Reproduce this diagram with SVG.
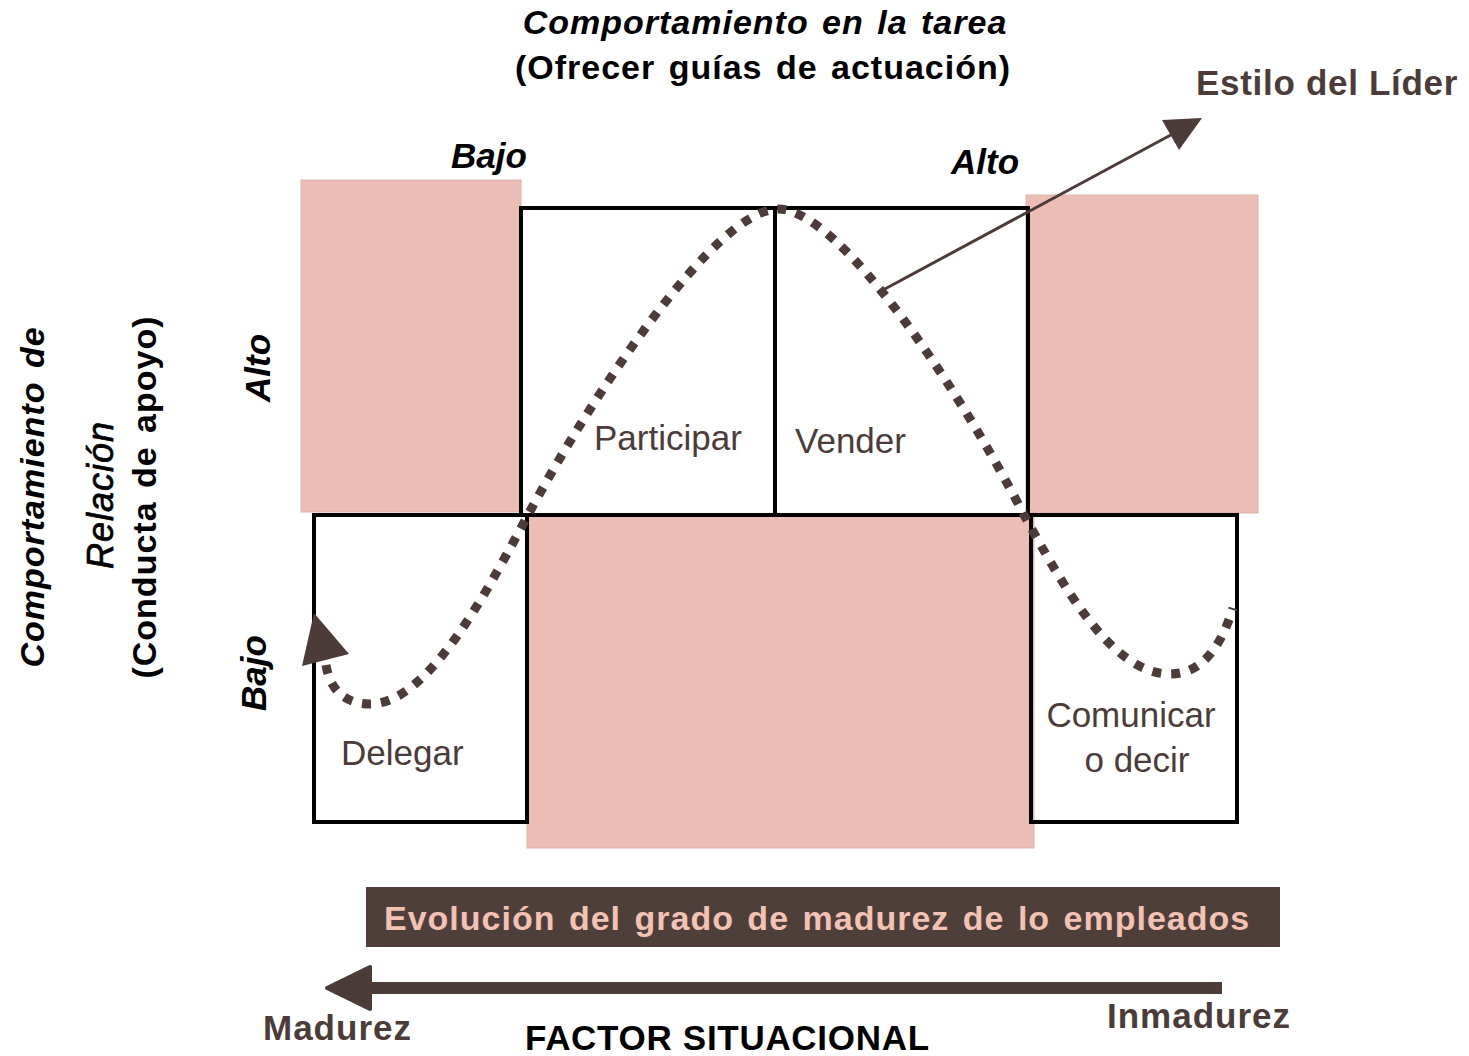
<svg xmlns="http://www.w3.org/2000/svg" width="1469" height="1056" viewBox="0 0 1469 1056">
<style>
.pink{fill:#ecbdb4;stroke:#d8b3ab;stroke-width:1}
.box{fill:none;stroke:#000;stroke-width:4}
.t{font-family:"Liberation Sans",Arial,sans-serif}
.b{font-weight:bold}
.i{font-style:italic}
.lab{font-family:"Liberation Sans",Arial,sans-serif;font-size:35px;fill:#4b3c39}
.hd{font-size:34px;letter-spacing:1px;word-spacing:3px}
</style>
<rect width="1469" height="1056" fill="#fff"/>
<g id="shading">
<rect class="pink" x="301" y="180" width="220" height="332"/>
<rect class="pink" x="1026" y="195" width="232" height="318"/>
<rect class="pink" x="527" y="515" width="507" height="333"/>
</g>
<g id="node-participar">
<rect class="box" x="521" y="208" width="254" height="307"/>
<text class="lab" x="594" y="450">Participar</text>
</g>
<g id="node-vender">
<rect class="box" x="775" y="208" width="253" height="307"/>
<text class="lab" x="795" y="453">Vender</text>
</g>
<g id="node-delegar">
<rect class="box" x="314" y="515" width="213" height="307"/>
<text class="lab" x="341" y="765">Delegar</text>
</g>
<g id="node-comunicar">
<rect class="box" x="1031" y="515" width="206" height="307"/>
<text class="lab" x="1131" y="727" text-anchor="middle">Comunicar</text>
<text class="lab" x="1137" y="772" text-anchor="middle">o decir</text>
</g>
<g id="connectors">
<path d="M 326 665 C 330 690, 345 704, 370 704 C 430 704, 490 585, 528 515 C 592 395, 716 209, 778 209 C 840 209, 960 390, 1024 515 C 1060 580, 1110 674, 1170 674 C 1200 674, 1220 650, 1233 608" fill="none" stroke="#4b3c39" stroke-width="9" stroke-dasharray="9 10"/>
<polygon points="314,613 302,666 349,654" fill="#4b3c39"/>
<line x1="883" y1="290" x2="1180" y2="130" stroke="#4b3c39" stroke-width="3"/>
<polygon points="1202,118 1162,120 1179,150" fill="#4b3c39"/>
<line x1="360" y1="988" x2="1222" y2="988" stroke="#4b3c39" stroke-width="12"/>
<polygon points="327,988 370,967 370,1009" fill="#4b3c39" stroke="#4b3c39" stroke-width="4" stroke-linejoin="round"/>
</g>
<g id="titles">
<text class="t b i hd" x="765" y="34" text-anchor="middle">Comportamiento en la tarea</text>
<text class="t b hd" x="763" y="79" text-anchor="middle">(Ofrecer guías de actuación)</text>
<text class="t b" x="1196" y="95" font-size="35" letter-spacing="0.7" fill="#4b3c39">Estilo del Líder</text>
<text class="t b i" x="451" y="168" font-size="35">Bajo</text>
<text class="t b i" x="951" y="174" font-size="35">Alto</text>
<text class="t b i hd" transform="translate(44,497) rotate(-90)" text-anchor="middle" word-spacing="7">Comportamiento de</text>
<text class="t i" transform="translate(113,495) rotate(-90)" text-anchor="middle" font-size="36" letter-spacing="1" stroke="#000" stroke-width="0.7">Relación</text>
<text class="t b hd" transform="translate(156,497) rotate(-90)" text-anchor="middle">(Conducta de apoyo)</text>
<text class="t b i" transform="translate(270,368) rotate(-90)" text-anchor="middle" font-size="35">Alto</text>
<text class="t b i" transform="translate(266,673) rotate(-90)" text-anchor="middle" font-size="35">Bajo</text>
</g>
<g id="banner">
<rect x="366" y="887" width="914" height="60" fill="#4f3f3b"/>
<text class="t b hd" x="384" y="930" fill="#f2c2b5">Evolución del grado de madurez de lo empleados</text>
</g>
<g id="bottom-labels">
<text class="t b" x="263" y="1040" font-size="35" letter-spacing="1" fill="#4b3c39">Madurez</text>
<text class="t b" x="1107" y="1028" font-size="35" letter-spacing="1" fill="#4b3c39">Inmadurez</text>
<text class="t b" x="525" y="1050" font-size="35" letter-spacing="0.7">FACTOR SITUACIONAL</text>
</g>
</svg>
